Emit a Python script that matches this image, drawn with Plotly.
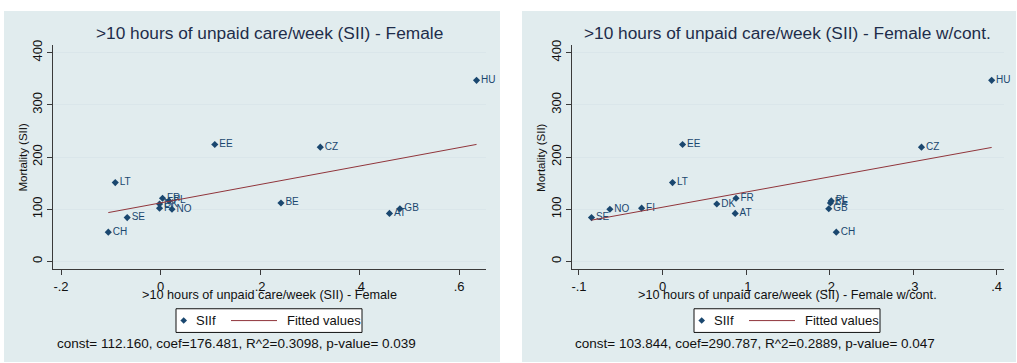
import plotly.graph_objects as go

W, H = 1017, 363

# ---- data ----
countries = ["HU", "CZ", "EE", "LT", "FR", "PL", "DK", "FI", "NO", "BE", "SE", "CH", "AT", "GB"]
mortality = [347, 219, 224, 151, 121, 116, 110, 102, 100, 112, 84, 56, 92, 101]
x_female = [0.635, 0.321, 0.109, -0.091, 0.004, 0.017, -0.002, -0.002, 0.023, 0.242, -0.067, -0.105, 0.460, 0.481]
x_female_cont = [0.394, 0.310, 0.024, 0.012, 0.088, 0.202, 0.065, -0.025, -0.063, 0.201, -0.085, 0.208, 0.087, 0.199]

fit_x_left = [-0.105, 0.635]
fit_y_left = [93.6, 224.2]
fit_x_right = [-0.085, 0.394]
fit_y_right = [79.1, 218.4]

titles = [">10 hours of unpaid care/week (SII) - Female",
          ">10 hours of unpaid care/week (SII) - Female w/cont."]
footers = ["const= 112.160, coef=176.481, R^2=0.3098, p-value= 0.039",
           "const= 103.844, coef=290.787, R^2=0.2889, p-value= 0.047"]
y_title = "Mortality (SII)"
y_ticks = [0, 100, 200, 300, 400]
x_ticks_left = [-0.2, 0, 0.2, 0.4, 0.6]
x_ticklabels_left = ["-.2", "0", ".2", ".4", ".6"]
x_ticks_right = [-0.1, 0, 0.1, 0.2, 0.3, 0.4]
x_ticklabels_right = ["-.1", "0", ".1", ".2", ".3", ".4"]
legend_labels = ["SIIf", "Fitted values"]

# ---- style ----
FONT = "Liberation Sans, Arial, sans-serif"
NAVY = "#1a476f"
MAROON = "#90353b"
PANEL_BG = "#e1ecee"
GRID = "#dae6ea"
AXIS = "#3a3a3a"
TITLE_C = "#1e2d4a"
TXT = "#111111"


def px(x):
    return x / W


def py(y):
    return 1 - y / H


fig = go.Figure()

panels = [
    dict(x=x_female, fx=fit_x_left, fy=fit_y_left, xa="x", ya="y",
         xtv=x_ticks_left, xtt=x_ticklabels_left, xr=[-0.2155, 0.654],
         pl=53.3, pr=486.0, bg=(4, 500), off=0),
    dict(x=x_female_cont, fx=fit_x_right, fy=fit_y_right, xa="x2", ya="y2",
         xtv=x_ticks_right, xtt=x_ticklabels_right, xr=[-0.1087, 0.4084],
         pl=571.7, pr=1003.7, bg=(522, 1016), off=518),
]

PT, PB = 40.7, 268.0
shapes = []
annotations = []

for i, p in enumerate(panels):
    # panel background
    shapes.append(dict(type="rect", xref="paper", yref="paper", layer="below",
                       x0=px(p["bg"][0]), x1=px(p["bg"][1]), y0=py(362), y1=py(6),
                       fillcolor=PANEL_BG, line=dict(width=0)))
    fig.add_trace(go.Scatter(
        x=p["x"], y=mortality, mode="markers+text", text=countries,
        textposition="middle right",
        textfont=dict(family=FONT, size=10, color=NAVY),
        marker=dict(symbol="diamond", size=5.5, color=NAVY),
        xaxis=p["xa"], yaxis=p["ya"], showlegend=False, cliponaxis=False,
        hoverinfo="text"))
    fig.add_trace(go.Scatter(
        x=p["fx"], y=p["fy"], mode="lines",
        line=dict(color=MAROON, width=1),
        xaxis=p["xa"], yaxis=p["ya"], showlegend=False))

    cx = (p["pl"] + p["pr"]) / 2
    # title
    annotations.append(dict(text=titles[i], x=px(cx), y=py(28), xref="paper", yref="paper",
                            showarrow=False, xanchor="center", yanchor="middle",
                            font=dict(family=FONT, size=17.3, color=TITLE_C)))
    # x title
    annotations.append(dict(text=titles[i], x=px(cx), y=py(294), xref="paper", yref="paper",
                            showarrow=False, xanchor="center", yanchor="middle",
                            font=dict(family=FONT, size=12.7, color=TXT)))
    # y title
    annotations.append(dict(text=y_title, x=px(p["pl"] - 30), y=py((PT + PB) / 2),
                            xref="paper", yref="paper", textangle=-90,
                            showarrow=False, xanchor="center", yanchor="middle",
                            font=dict(family=FONT, size=11.5, color=TXT)))
    # footer
    annotations.append(dict(text=footers[i], x=px(55 + p["off"]), y=py(343),
                            xref="paper", yref="paper",
                            showarrow=False, xanchor="left", yanchor="middle",
                            font=dict(family=FONT, size=13.5, color=TXT)))
    # legend box
    o = p["off"]
    shapes.append(dict(type="rect", xref="paper", yref="paper",
                       x0=px(176 + o), x1=px(362 + o), y0=py(332), y1=py(308),
                       fillcolor="white", line=dict(color=TXT, width=1)))
    dx, dy, r = 183.7 + o, 320, 3.3
    shapes.append(dict(type="path", xref="paper", yref="paper",
                       path=f"M {px(dx)},{py(dy - r)} L {px(dx + r)},{py(dy)} L {px(dx)},{py(dy + r)} L {px(dx - r)},{py(dy)} Z",
                       fillcolor=NAVY, line=dict(width=0)))
    shapes.append(dict(type="line", xref="paper", yref="paper",
                       x0=px(231 + o), x1=px(277 + o), y0=py(320), y1=py(320),
                       line=dict(color=MAROON, width=1)))
    annotations.append(dict(text=legend_labels[0], x=px(194 + o), y=py(320),
                            xref="paper", yref="paper", showarrow=False,
                            xanchor="left", yanchor="middle",
                            font=dict(family=FONT, size=13, color=TXT)))
    annotations.append(dict(text=legend_labels[1], x=px(285 + o), y=py(320),
                            xref="paper", yref="paper", showarrow=False,
                            xanchor="left", yanchor="middle",
                            font=dict(family=FONT, size=13, color=TXT)))

common_y = dict(range=[-15.1, 414.4], tickvals=y_ticks, tickangle=-90,
                ticks="outside", ticklen=5, tickcolor=AXIS, showline=True,
                linecolor=AXIS, linewidth=1, showgrid=True, gridcolor=GRID,
                gridwidth=1, zeroline=False,
                tickfont=dict(family=FONT, size=13, color=TXT),
                domain=[py(PB), py(PT)], fixedrange=True)

layout = dict(
    width=W, height=H, margin=dict(l=0, r=0, t=0, b=0),
    paper_bgcolor="white", plot_bgcolor="white",
    shapes=shapes, annotations=annotations, showlegend=False,
)
for i, p in enumerate(panels):
    xk = "xaxis" if i == 0 else "xaxis2"
    yk = "yaxis" if i == 0 else "yaxis2"
    layout[xk] = dict(range=p["xr"], tickvals=p["xtv"], ticktext=p["xtt"],
                      ticks="outside", ticklen=5, tickcolor=AXIS, showline=True,
                      linecolor=AXIS, linewidth=1, showgrid=False, zeroline=False,
                      tickfont=dict(family=FONT, size=13, color=TXT),
                      domain=[px(p["pl"]), px(p["pr"])],
                      anchor="y" if i == 0 else "y2", fixedrange=True)
    layout[yk] = dict(common_y, anchor="x" if i == 0 else "x2")

fig.update_layout(**layout)
fig.write_html("out.html")
